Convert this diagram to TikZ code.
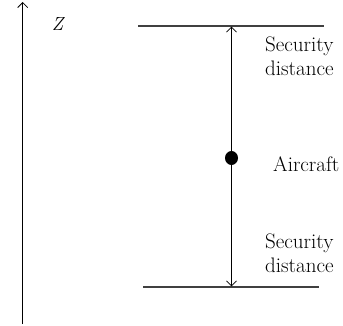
\documentclass[tikz,border=0pt]{standalone}
\usetikzlibrary{arrows.meta,shapes.geometric}
\begin{document}
\begin{tikzpicture}[x=1pt,y=-1pt,
  limit/.style={draw=black!75, line width=1.3pt},
  dimarrow/.style={draw=black, line width=0.8pt, {Straight Barb[length=5pt,width=10pt]}-{Straight Barb[length=5pt,width=10pt]}},
  axisarrow/.style={draw=black, line width=0.8pt, -{Straight Barb[length=5pt,width=10pt]}},
  lbl/.style={font=\fontsize{21}{24}\selectfont, align=left, anchor=west, inner sep=0pt},
  acdot/.style={ellipse, fill=black, minimum width=13pt, minimum height=14pt, inner sep=0pt}]
\useasboundingbox (0,0) rectangle (343,326);
% z axis
\coordinate (zb) at (22.7,324);
\coordinate (zt) at (22.7,2);
\draw[axisarrow] (zb) -- (zt);
\node[font=\fontsize{19}{22}\selectfont\itshape, inner sep=0pt] (zl) at (57.5,24) {Z};
% limit lines
\coordinate (tl) at (138,26);
\coordinate (tr) at (324,26);
\coordinate (bl) at (143,287);
\coordinate (br) at (319,287);
\draw[limit] (tl) -- (tr);
\draw[limit] (bl) -- (br);
% dimension arrow
\coordinate (top) at (231.5,26.6);
\coordinate (bot) at (231.5,286.4);
\draw[dimarrow] (top) -- (bot);
\node[acdot] (ac) at (231.5,158) {};
% labels
\node[lbl] (sd1) at (265,56) {Security\\distance};
\node[lbl] (acl) at (273,164) {Aircraft};
\node[lbl] (sd2) at (265,253) {Security\\distance};
\end{tikzpicture}
\end{document}
